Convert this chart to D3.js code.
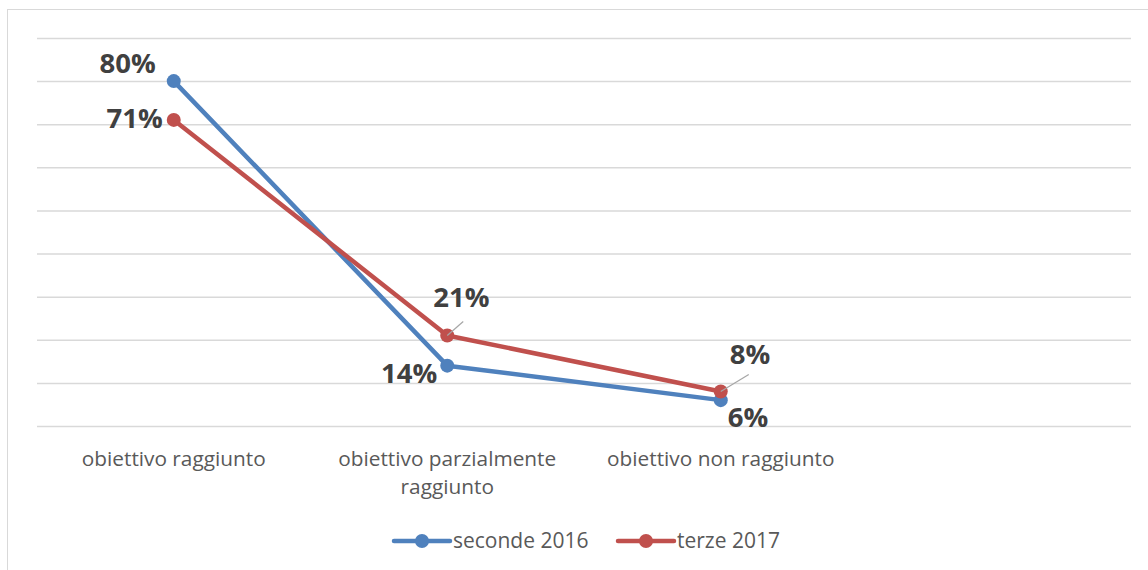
<!DOCTYPE html>
<html>
<head>
<meta charset="utf-8">
<script src="https://cdn.jsdelivr.net/npm/d3@7"></script>
<style>
  body { margin: 0; background: #fff; }
  text { font-family: "Open Sans", Lato, sans-serif; }
</style>
</head>
<body>
<svg id="chart" width="1148" height="570"></svg>
<script>
// ---- data ----
var categories = ["obiettivo raggiunto", "obiettivo parzialmente raggiunto", "obiettivo non raggiunto", ""];
var seriesNames = ["seconde 2016", "terze 2017"];
var seconde2016 = [0.80, 0.14, 0.06];
var terze2017 = [0.71, 0.21, 0.08];
var yTicks = [0, 0.1, 0.2, 0.3, 0.4, 0.5, 0.6, 0.7, 0.8, 0.9];

var colors = ["#4F81BD", "#C0504D"];

// label placement per point (dx, dy from point, anchor, leader)
var labelPos = [
  [{dx: -18, dy: -8, anchor: "end"}, {dx: -10, dy: 17, anchor: "end"}, {dx: 7, dy: 27, anchor: "start"}],
  [{dx: -11, dy: 8, anchor: "end"}, {dx: -14, dy: -28, anchor: "start", leader: true}, {dx: 9, dy: -28, anchor: "start", leader: true}]
];

var svg = d3.select("#chart");
var margin = {left: 37, right: 17, top: 38, bottom: 144};
var width = 1148 - margin.left - margin.right,
    height = 570 - margin.top - margin.bottom;

// chart border (only left/top visible)
svg.append("rect")
  .attr("x", 7.5).attr("y", 9.5)
  .attr("width", 1160).attr("height", 600)
  .attr("fill", "none").attr("stroke", "#d9d9d9").attr("stroke-width", 1);

var g = svg.append("g").attr("transform", "translate(" + margin.left + "," + margin.top + ")");

var x = d3.scaleBand().domain(d3.range(categories.length)).range([0, width]);
var y = d3.scaleLinear().domain([0, 0.9]).range([height, 0]);

// gridlines
g.append("g")
  .call(d3.axisLeft(y).tickValues(yTicks).tickSize(-width).tickFormat(""))
  .call(function (a) {
    a.select(".domain").remove();
    a.selectAll("line").attr("stroke", "#d9d9d9").attr("stroke-width", 1.5);
  });

// category labels
var xAxis = g.append("g").attr("transform", "translate(0," + height + ")")
  .call(d3.axisBottom(x).tickSize(0).tickFormat(""));
xAxis.select(".domain").remove();

var wrapped = [["obiettivo raggiunto"], ["obiettivo parzialmente", "raggiunto"], ["obiettivo non raggiunto"], []];
xAxis.selectAll(".tick").each(function (d) {
  var t = d3.select(this).append("text")
    .attr("fill", "#595959")
    .attr("font-size", "20.8px")
    .attr("text-anchor", "middle")
    .attr("y", 40);
  wrapped[d].forEach(function (line, i) {
    t.append("tspan").attr("x", 0).attr("dy", i === 0 ? 0 : 28).text(line);
  });
});

var line = d3.line()
  .x(function (d, i) { return x(i) + x.bandwidth() / 2; })
  .y(function (d) { return y(d); });

[seconde2016, terze2017].forEach(function (vals, s) {
  g.append("path")
    .datum(vals)
    .attr("fill", "none")
    .attr("stroke", colors[s])
    .attr("stroke-width", 4.5)
    .attr("stroke-linejoin", "round")
    .attr("d", line);

  g.selectAll(".pt" + s)
    .data(vals)
    .enter().append("circle")
    .attr("cx", function (d, i) { return x(i) + x.bandwidth() / 2; })
    .attr("cy", function (d) { return y(d); })
    .attr("r", 7)
    .attr("fill", colors[s]);
});

// data labels
[seconde2016, terze2017].forEach(function (vals, s) {
  vals.forEach(function (v, i) {
    var px = x(i) + x.bandwidth() / 2, py = y(v);
    var p = labelPos[s][i];
    if (p.leader) {
      g.append("line")
        .attr("x1", px).attr("y1", py)
        .attr("x2", px + (i === 1 ? 16 : 28)).attr("y2", py - (i === 1 ? 14 : 17))
        .attr("stroke", "#a6a6a6").attr("stroke-width", 1.2);
    }
    g.append("text")
      .attr("x", px + p.dx)
      .attr("y", py + p.dy)
      .attr("text-anchor", p.anchor)
      .attr("font-size", "27.5px")
      .attr("font-weight", "bold")
      .attr("fill", "#404040")
      .text(d3.format(".0%")(v));
  });
});

// legend
var legend = svg.append("g").attr("transform", "translate(394,541)");
var legX = [0, 224];
seriesNames.forEach(function (name, s) {
  var lg = legend.append("g").attr("transform", "translate(" + legX[s] + ",0)");
  lg.append("line").attr("x1", 0).attr("x2", 56).attr("y1", 0).attr("y2", 0)
    .attr("stroke", colors[s]).attr("stroke-width", 4.5).attr("stroke-linecap", "round");
  lg.append("circle").attr("cx", 28).attr("cy", 0).attr("r", 7).attr("fill", colors[s]);
  lg.append("text").attr("x", 59).attr("y", 7)
    .attr("font-size", "21px").attr("fill", "#595959").text(name);
});
</script>
</body>
</html>
